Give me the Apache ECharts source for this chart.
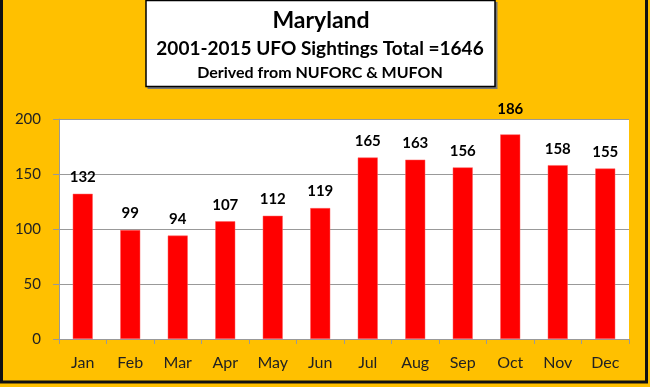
<!DOCTYPE html>
<html><head><meta charset="utf-8">
<script src="https://cdn.jsdelivr.net/npm/echarts@6/dist/echarts.min.js"></script>
<style>html,body{margin:0;padding:0;background:#FFC000}#c{width:650px;height:387px}</style>
</head><body><div id="c"></div>
<script>
const categories = ['Jan','Feb','Mar','Apr','May','Jun','Jul','Aug','Sep','Oct','Nov','Dec'];
const sightings = [132,99,94,107,112,119,165,163,156,186,158,155];
const titleText = 'Maryland';
const subtitleText = '2001-2015 UFO Sightings Total =1646';
const sourceText = 'Derived from NUFORC & MUFON';
const FONT = 'Lato, "Open Sans", sans-serif';

const barData = sightings.map((v, i) => categories[i] === 'Oct'
  ? {value: v, label: {distance: 18}}
  : v);

const chart = echarts.init(document.getElementById('c'), null, {renderer:'canvas'});
chart.setOption({
  backgroundColor: '#FFC000',
  animation: false,
  graphic: [
    {type:'rect', shape:{x:1.5,y:-3,width:645,height:385}, style:{fill:'none',stroke:'#111',lineWidth:3}, z:0},
    {type:'rect', shape:{x:147.5,y:2,width:350,height:87}, style:{fill:'#777'}, z:1},
    {type:'rect', shape:{x:146,y:0.5,width:349,height:86}, style:{fill:'#fff',stroke:'#000',lineWidth:1.5}, z:2},
    {type:'rect', shape:{x:59,y:119,width:570,height:220}, style:{fill:'#fff'}, z:-1, silent:true},
    {type:'text', x:321, y:21, style:{text:titleText, font:'bold 23px '+FONT, fill:'#000', align:'center', verticalAlign:'middle'}, z:3},
    {type:'text', x:320, y:49, style:{text:subtitleText, font:'bold 19px '+FONT, fill:'#000', align:'center', verticalAlign:'middle'}, z:3},
    {type:'text', x:320, y:73, style:{text:sourceText, font:'bold 16px '+FONT, fill:'#000', align:'center', verticalAlign:'middle'}, z:3}
  ],
  grid: {left:59, right:21, top:119, bottom:48, containLabel:false},
  xAxis: {
    type:'category', data: categories,
    axisLine:{lineStyle:{color:'#999',width:1}},
    axisTick:{show:true, length:5, lineStyle:{color:'#999'}},
    axisLabel:{color:'#222', fontFamily:FONT, fontSize:16, margin:16}
  },
  yAxis: {
    type:'value', min:0, max:200, interval:50,
    axisLine:{show:true, lineStyle:{color:'#999'}},
    axisTick:{show:true, length:6, lineStyle:{color:'#999'}},
    axisLabel:{color:'#222', fontFamily:FONT, fontSize:15, margin:18},
    splitLine:{lineStyle:{color:'#999',width:1}}
  },
  series: [{
    type:'bar', data: barData, barWidth:20,
    itemStyle:{color:'#FF0000', borderColor:'#FF6060', borderWidth:0.5},
    label:{show:true, position:'top', distance:9, color:'#000', fontFamily:FONT, fontWeight:'bold', fontSize:15}
  }]
});
</script></body></html>
